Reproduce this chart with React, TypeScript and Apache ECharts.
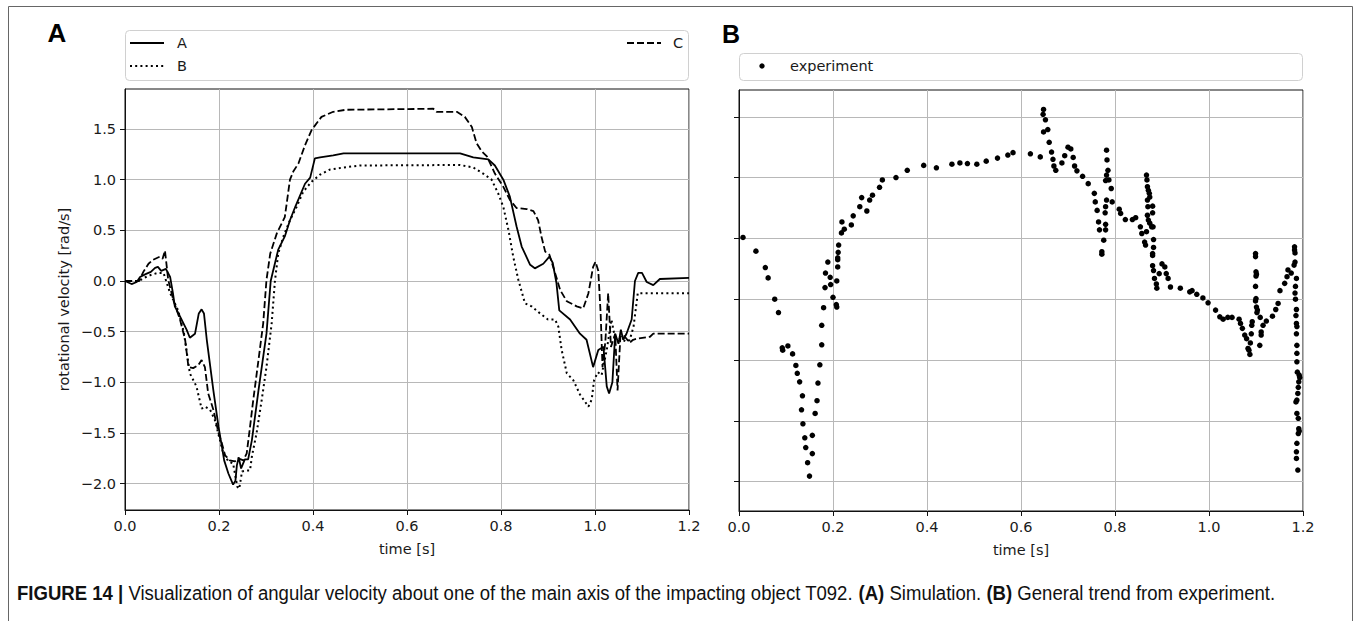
import React, { useEffect, useRef } from "react";
import * as echarts from "echarts";

// ---------- data ----------
const xTicks = [0, 0.2, 0.4, 0.6, 0.8, 1.0, 1.2];
const yTicksSim = [-2.0, -1.5, -1.0, -0.5, 0.0, 0.5, 1.0, 1.5];
const yTicksExp = [-3, -2, -1, 0, 1, 2, 3];

const seriesNames = ["A", "B", "C"];
const expName = "experiment";

const curveA: [number, number][] = [
  [0, 0], [0.014, -0.03], [0.025, -0.01], [0.032, 0.04], [0.045, 0.07], [0.055, 0.09], [0.064, 0.13],
  [0.07, 0.14], [0.077, 0.1], [0.087, 0.12], [0.096, 0.04], [0.102, -0.12], [0.106, -0.25], [0.117, -0.35],
  [0.131, -0.48], [0.138, -0.56], [0.149, -0.52], [0.157, -0.32], [0.163, -0.28], [0.168, -0.32],
  [0.174, -0.58], [0.188, -1.08], [0.199, -1.44], [0.206, -1.63], [0.211, -1.77], [0.22, -1.9],
  [0.23, -2.01], [0.235, -1.97], [0.238, -1.82], [0.242, -1.74], [0.247, -1.85], [0.255, -1.76],
  [0.262, -1.76], [0.27, -1.57], [0.284, -1.08], [0.301, -0.52], [0.31, 0.0], [0.326, 0.31],
  [0.34, 0.44], [0.351, 0.6], [0.362, 0.73], [0.383, 0.96], [0.394, 1.02], [0.404, 1.21], [0.415, 1.22],
  [0.443, 1.24], [0.465, 1.26], [0.5, 1.26], [0.713, 1.26], [0.741, 1.22], [0.773, 1.2], [0.787, 1.14],
  [0.805, 1.0], [0.819, 0.83], [0.833, 0.54], [0.844, 0.34], [0.862, 0.16], [0.872, 0.125], [0.89, 0.17],
  [0.903, 0.24], [0.91, 0.18], [0.918, -0.02], [0.924, -0.29], [0.947, -0.38], [0.968, -0.52],
  [0.982, -0.58], [0.996, -0.85], [1.007, -0.68], [1.018, -0.65], [1.025, -1.04], [1.03, -1.11],
  [1.037, -1.0], [1.043, -0.52], [1.05, -0.62], [1.055, -0.48], [1.06, -0.58], [1.067, -0.52],
  [1.078, -0.38], [1.085, 0.0], [1.092, 0.08], [1.1, 0.08], [1.11, -0.01], [1.124, -0.04],
  [1.138, 0.02], [1.2, 0.03],
];

const curveB: [number, number][] = [
  [0, 0], [0.03, 0], [0.04, 0.03], [0.055, 0.06], [0.07, 0.08], [0.082, 0.08], [0.096, -0.12],
  [0.113, -0.29], [0.125, -0.5], [0.138, -0.91], [0.14, -0.93], [0.152, -1.04], [0.163, -1.26],
  [0.17, -1.24], [0.181, -1.27], [0.191, -1.37], [0.202, -1.57], [0.209, -1.7], [0.22, -1.78],
  [0.23, -1.8], [0.239, -2.03], [0.243, -2.05], [0.249, -1.88], [0.259, -1.87], [0.266, -1.87],
  [0.27, -1.73], [0.28, -1.5], [0.291, -1.17], [0.301, -0.85], [0.312, -0.42], [0.319, 0],
  [0.326, 0.27], [0.337, 0.44], [0.351, 0.6], [0.365, 0.73], [0.379, 0.88], [0.397, 0.98],
  [0.415, 1.05], [0.436, 1.1], [0.464, 1.12], [0.5, 1.14], [0.713, 1.145], [0.741, 1.12],
  [0.762, 1.06], [0.78, 1.0], [0.794, 0.865], [0.805, 0.73], [0.816, 0.5], [0.826, 0.24],
  [0.837, 0.01], [0.851, -0.22], [0.865, -0.25], [0.883, -0.32], [0.9, -0.38], [0.915, -0.38],
  [0.922, -0.45], [0.929, -0.68], [0.94, -0.91], [0.954, -0.98], [0.968, -1.12], [0.986, -1.24],
  [0.993, -1.17], [0.998, -0.98], [1.006, -0.9], [1.014, -0.93], [1.025, -0.68], [1.035, -0.38],
  [1.042, -0.55], [1.05, -0.56], [1.067, -0.6], [1.074, -0.58], [1.082, -0.45], [1.091, -0.12],
  [1.2, -0.12],
];

const curveC: [number, number][] = [
  [0, 0], [0.03, 0], [0.039, 0.09], [0.05, 0.17], [0.06, 0.21], [0.074, 0.24], [0.08, 0.22],
  [0.085, 0.3], [0.092, 0.01], [0.103, -0.19], [0.117, -0.38], [0.128, -0.58], [0.135, -0.85],
  [0.145, -0.86], [0.156, -0.83], [0.163, -0.78], [0.17, -0.85], [0.177, -1.11], [0.188, -1.27],
  [0.199, -1.5], [0.206, -1.6], [0.213, -1.72], [0.223, -1.77], [0.234, -1.78], [0.241, -1.75],
  [0.252, -1.77], [0.259, -1.7], [0.266, -1.44], [0.273, -1.17], [0.284, -0.78], [0.294, -0.42],
  [0.301, 0.01], [0.309, 0.27], [0.323, 0.47], [0.34, 0.63], [0.351, 1.0], [0.358, 1.08],
  [0.369, 1.16], [0.383, 1.34], [0.397, 1.49], [0.418, 1.62], [0.443, 1.67], [0.47, 1.69],
  [0.656, 1.7], [0.663, 1.67], [0.706, 1.67], [0.723, 1.62], [0.738, 1.52], [0.748, 1.36],
  [0.759, 1.28], [0.77, 1.23], [0.787, 1.06], [0.805, 0.93], [0.819, 0.8], [0.833, 0.72],
  [0.855, 0.71], [0.869, 0.69], [0.879, 0.6], [0.886, 0.44], [0.894, 0.29], [0.903, 0.26],
  [0.915, 0.08], [0.926, -0.09], [0.94, -0.2], [0.961, -0.25], [0.975, -0.27], [0.986, -0.12],
  [0.996, 0.14], [1.001, 0.19], [1.007, 0.1], [1.012, -0.32], [1.016, -0.85], [1.022, -0.6],
  [1.028, -0.12], [1.034, -0.65], [1.043, -0.52], [1.048, -1.08], [1.054, -0.55], [1.06, -0.53],
  [1.074, -0.61], [1.081, -0.58], [1.089, -0.57], [1.117, -0.55], [1.124, -0.52], [1.2, -0.52],
];

const experiment: [number, number][] = [
  [0.0085, 1.015], [0.036, 0.79], [0.056, 0.52], [0.062, 0.35], [0.076, 0.0], [0.084, -0.22],
  [0.092, -0.8], [0.093, -0.84], [0.104, -0.77], [0.114, -0.9], [0.121, -1.09], [0.124, -1.22],
  [0.129, -1.36], [0.135, -1.59], [0.133, -1.82], [0.136, -2.05], [0.14, -2.28], [0.142, -2.44],
  [0.146, -2.69], [0.15, -2.91], [0.156, -2.54], [0.156, -2.24], [0.162, -1.88], [0.166, -1.67],
  [0.168, -1.38], [0.172, -1.08], [0.176, -0.75], [0.176, -0.43], [0.18, -0.14], [0.183, 0.19],
  [0.184, 0.43], [0.189, 0.61], [0.194, 0.36], [0.195, 0.24], [0.2, 0.03], [0.207, -0.09],
  [0.208, -0.13], [0.208, 0.3], [0.21, 0.53], [0.21, 0.65], [0.21, 0.68], [0.211, 0.77],
  [0.212, 0.89], [0.218, 1.09], [0.224, 1.15], [0.219, 1.27], [0.239, 1.22], [0.243, 1.37],
  [0.257, 1.52], [0.261, 1.67], [0.272, 1.45], [0.278, 1.63], [0.284, 1.71], [0.299, 1.84],
  [0.305, 1.96], [0.334, 2.0], [0.358, 2.12], [0.393, 2.2], [0.42, 2.16], [0.453, 2.22],
  [0.47, 2.24], [0.486, 2.23], [0.506, 2.22], [0.526, 2.27], [0.55, 2.32], [0.572, 2.37],
  [0.583, 2.41], [0.62, 2.39], [0.641, 2.34], [0.648, 3.12], [0.647, 3.04], [0.652, 2.95],
  [0.657, 2.79], [0.648, 2.75], [0.66, 2.58], [0.665, 2.42], [0.668, 2.3], [0.67, 2.19],
  [0.674, 2.12], [0.687, 2.24], [0.693, 2.36], [0.7, 2.5], [0.706, 2.47], [0.711, 2.33],
  [0.714, 2.19], [0.719, 2.11], [0.731, 2.02], [0.743, 1.9], [0.756, 1.74], [0.758, 1.6],
  [0.762, 1.46], [0.765, 1.27], [0.767, 1.14], [0.772, 0.78], [0.772, 0.74], [0.776, 0.97],
  [0.78, 1.14], [0.78, 1.23], [0.779, 1.42], [0.78, 1.52], [0.782, 1.63], [0.78, 1.95],
  [0.782, 2.04], [0.785, 2.12], [0.783, 2.29], [0.782, 2.45], [0.787, 1.96], [0.792, 1.82],
  [0.794, 1.6], [0.809, 1.48], [0.812, 1.41], [0.822, 1.31], [0.837, 1.31], [0.844, 1.34],
  [0.854, 1.19], [0.857, 1.08], [0.867, 1.11], [0.863, 0.94], [0.865, 0.89], [0.867, 2.04],
  [0.868, 1.96], [0.869, 1.85], [0.871, 1.79], [0.873, 1.74], [0.874, 1.68], [0.869, 1.63],
  [0.87, 1.52], [0.869, 1.38], [0.871, 1.3], [0.874, 1.25], [0.878, 1.19], [0.88, 1.53],
  [0.88, 1.42], [0.881, 1.19], [0.882, 0.98], [0.882, 0.85], [0.88, 0.75], [0.88, 0.72],
  [0.88, 0.55], [0.882, 0.47], [0.884, 0.34], [0.888, 0.25], [0.889, 0.18], [0.894, 0.42],
  [0.9, 0.58], [0.906, 0.53], [0.909, 0.42], [0.913, 0.34], [0.918, 0.2], [0.939, 0.18],
  [0.959, 0.12], [0.964, 0.14], [0.974, 0.08], [0.987, 0.02], [0.998, -0.06], [1.014, -0.18],
  [1.023, -0.29], [1.03, -0.33], [1.04, -0.3], [1.049, -0.3], [1.064, -0.33], [1.067, -0.4],
  [1.071, -0.48], [1.076, -0.59], [1.08, -0.65], [1.083, -0.81], [1.087, -0.91], [1.085, -0.84],
  [1.088, -0.72], [1.09, -0.57], [1.091, -0.43], [1.092, -0.37], [1.099, 0.75], [1.099, 0.7],
  [1.1, 0.45], [1.101, 0.41], [1.1, 0.38], [1.099, 0.21], [1.1, 0.01], [1.099, -0.03],
  [1.101, -0.13], [1.103, -0.18], [1.102, -0.22], [1.109, -0.3], [1.108, -0.76], [1.111, -0.59],
  [1.111, -0.54], [1.115, -0.43], [1.122, -0.36], [1.135, -0.28], [1.142, -0.17], [1.147, -0.07],
  [1.151, 0.14], [1.161, 0.26], [1.166, 0.37], [1.168, 0.48], [1.175, 0.43], [1.182, 0.86],
  [1.182, 0.81], [1.183, 0.76], [1.183, 0.61], [1.181, 0.56], [1.186, 0.34], [1.184, 0.21],
  [1.183, 0.1], [1.184, 0.0], [1.186, -0.17], [1.185, -0.27], [1.186, -0.4], [1.187, -0.45],
  [1.186, -0.57], [1.187, -0.76], [1.187, -0.89], [1.187, -1.03], [1.188, -1.2], [1.192, -1.25],
  [1.193, -1.29], [1.191, -1.36], [1.19, -1.45], [1.189, -1.55], [1.187, -1.66], [1.185, -1.69],
  [1.187, -1.88], [1.19, -1.96], [1.191, -2.13], [1.192, -2.17], [1.19, -2.21], [1.187, -2.37],
  [1.186, -2.51], [1.186, -2.62], [1.189, -2.81],
];

const captionText =
  "{b|FIGURE 14 |} Visualization of angular velocity about one of the main axis of the impacting object T092. {b|(A)} Simulation. {b|(B)} General trend from experiment.";

// ---------- styles ----------
const FONT = '"DejaVu Sans", sans-serif';
const TXT = "#1a1a1a";
const GRID = "#b8b8b8";
const SPINE = "#111";
const FS = 14.5;
const CAP_FONT = '"Liberation Sans", Arial, sans-serif';

const fmt = (v: number) => (v < 0 ? "\u2212" + Math.abs(v).toFixed(1) : v.toFixed(1));

function xAxisCfg(gridIndex: number) {
  return {
    type: "value",
    gridIndex,
    min: xTicks[0],
    max: xTicks[xTicks.length - 1],
    interval: 0.2,
    name: "time [s]",
    nameLocation: "middle",
    nameGap: 31,
    nameTextStyle: { color: TXT, fontSize: FS, fontFamily: FONT },
    axisLine: { show: true, onZero: false, lineStyle: { color: SPINE, width: 1 } },
    axisTick: { show: true, inside: false, length: 5, lineStyle: { color: SPINE, width: 1 } },
    axisLabel: {
      color: TXT,
      fontSize: FS,
      fontFamily: FONT,
      margin: 8,
      formatter: (v: number) => fmt(v),
    },
    splitLine: { show: true, lineStyle: { color: GRID, width: 1 } },
  };
}

export default function App() {
  const ref = useRef<HTMLDivElement>(null);

  useEffect(() => {
    if (!ref.current) return;
    const chart = echarts.init(ref.current, null, { renderer: "svg" });

    const legendFont = `${FS}px "DejaVu Sans", sans-serif`;

    const option: any = {
      animation: false,
      backgroundColor: "#ffffff",
      grid: [
        { left: 125, top: 89, width: 564, height: 421, show: true, borderColor: SPINE, borderWidth: 1, backgroundColor: "transparent" },
        { left: 739, top: 90, width: 564, height: 421, show: true, borderColor: SPINE, borderWidth: 1, backgroundColor: "transparent" },
      ],
      xAxis: [xAxisCfg(0), xAxisCfg(1)],
      yAxis: [
        {
          type: "value",
          gridIndex: 0,
          min: -2.26,
          max: 1.895,
          name: "rotational velocity [rad/s]",
          nameLocation: "middle",
          nameGap: 54,
          nameTextStyle: { color: TXT, fontSize: FS, fontFamily: FONT },
          axisLine: { show: true, onZero: false, lineStyle: { color: SPINE, width: 1 } },
          axisTick: { show: true, length: 5, customValues: yTicksSim, lineStyle: { color: SPINE, width: 1 } },
          axisLabel: {
            color: TXT,
            fontSize: FS,
            fontFamily: FONT,
            margin: 9,
            customValues: yTicksSim,
            formatter: (v: number) => fmt(v),
          },
          splitLine: { show: true, lineStyle: { color: GRID, width: 1 } },
        },
        {
          type: "value",
          gridIndex: 1,
          min: -3.484,
          max: 3.44,
          axisLine: { show: true, onZero: false, lineStyle: { color: SPINE, width: 1 } },
          axisTick: { show: true, length: 5, customValues: yTicksExp, lineStyle: { color: SPINE, width: 1 } },
          axisLabel: { show: false, customValues: yTicksExp },
          splitLine: { show: true, lineStyle: { color: GRID, width: 1 } },
        },
      ],
      series: [
        {
          name: seriesNames[0],
          type: "line",
          xAxisIndex: 0,
          yAxisIndex: 0,
          data: curveA,
          symbol: "none",
          lineStyle: { color: "#000", width: 1.8 },
          z: 3,
        },
        {
          name: seriesNames[1],
          type: "line",
          xAxisIndex: 0,
          yAxisIndex: 0,
          data: curveB,
          symbol: "none",
          lineStyle: { color: "#000", width: 2, type: [2, 3.2] },
          z: 3,
        },
        {
          name: seriesNames[2],
          type: "line",
          xAxisIndex: 0,
          yAxisIndex: 0,
          data: curveC,
          symbol: "none",
          lineStyle: { color: "#000", width: 1.8, type: [7, 3] },
          z: 3,
        },
        {
          name: expName,
          type: "scatter",
          xAxisIndex: 1,
          yAxisIndex: 1,
          data: experiment,
          symbol: "circle",
          symbolSize: 5.5,
          itemStyle: { color: "#000", opacity: 1 },
          z: 3,
        },
      ],
      graphic: [
        // outer frame
        { type: "rect", shape: { x: 8.5, y: 6.5, width: 1344, height: 700 }, style: { fill: "none", stroke: "#666", lineWidth: 1 }, silent: true },
        // panel letters
        { type: "text", x: 57, y: 33, style: { text: "A", font: 'bold 26px "Liberation Sans", Arial, sans-serif', fill: "#000", textAlign: "center", textVerticalAlign: "middle", align: "center", verticalAlign: "middle" } },
        { type: "text", x: 731, y: 34, style: { text: "B", font: 'bold 25px "Liberation Sans", Arial, sans-serif', fill: "#000", textAlign: "center", textVerticalAlign: "middle", align: "center", verticalAlign: "middle" } },
        // legend A box
        { type: "rect", shape: { x: 125.5, y: 30.5, width: 563, height: 50, r: 4 }, style: { fill: "#fff", stroke: "#d0d0d0", lineWidth: 1 } },
        { type: "line", shape: { x1: 130, y1: 43, x2: 164, y2: 43 }, style: { stroke: "#000", lineWidth: 1.8 } },
        { type: "text", x: 177, y: 43, style: { text: seriesNames[0], font: legendFont, fill: TXT, textAlign: "left", textVerticalAlign: "middle", align: "left", verticalAlign: "middle" } },
        { type: "line", shape: { x1: 130, y1: 66, x2: 164, y2: 66 }, style: { stroke: "#000", lineWidth: 2, lineDash: [2, 3.2] } },
        { type: "text", x: 177, y: 66, style: { text: seriesNames[1], font: legendFont, fill: TXT, textAlign: "left", textVerticalAlign: "middle", align: "left", verticalAlign: "middle" } },
        { type: "line", shape: { x1: 627, y1: 43, x2: 661, y2: 43 }, style: { stroke: "#000", lineWidth: 1.8, lineDash: [7, 3] } },
        { type: "text", x: 673, y: 43, style: { text: seriesNames[2], font: legendFont, fill: TXT, textAlign: "left", textVerticalAlign: "middle", align: "left", verticalAlign: "middle" } },
        // legend B box
        { type: "rect", shape: { x: 739.5, y: 53.5, width: 563, height: 27, r: 4 }, style: { fill: "#fff", stroke: "#d0d0d0", lineWidth: 1 } },
        { type: "circle", shape: { cx: 762, cy: 66, r: 2.7 }, style: { fill: "#000" } },
        { type: "text", x: 790, y: 66, style: { text: expName, font: legendFont, fill: TXT, textAlign: "left", textVerticalAlign: "middle", align: "left", verticalAlign: "middle" } },
        // caption
        {
          type: "text",
          x: 17,
          y: 593,
          scaleX: 0.928,
          style: {
            text: captionText,
            fontFamily: CAP_FONT,
            fontSize: 20,
            fill: "#111",
            textAlign: "left",
            textVerticalAlign: "middle",
            align: "left",
            verticalAlign: "middle",
            rich: {
              b: {
                fontWeight: "bold",
                fontFamily: CAP_FONT,
                fontSize: 20,
                fill: "#111",
              },
            },
          },
        },
      ],
    };

    chart.setOption(option);
    return () => chart.dispose();
  }, []);

  return (
    <div
      ref={ref}
      style={{ position: "fixed", left: 0, top: 0, width: 1354, height: 621, background: "#fff" }}
    />
  );
}
